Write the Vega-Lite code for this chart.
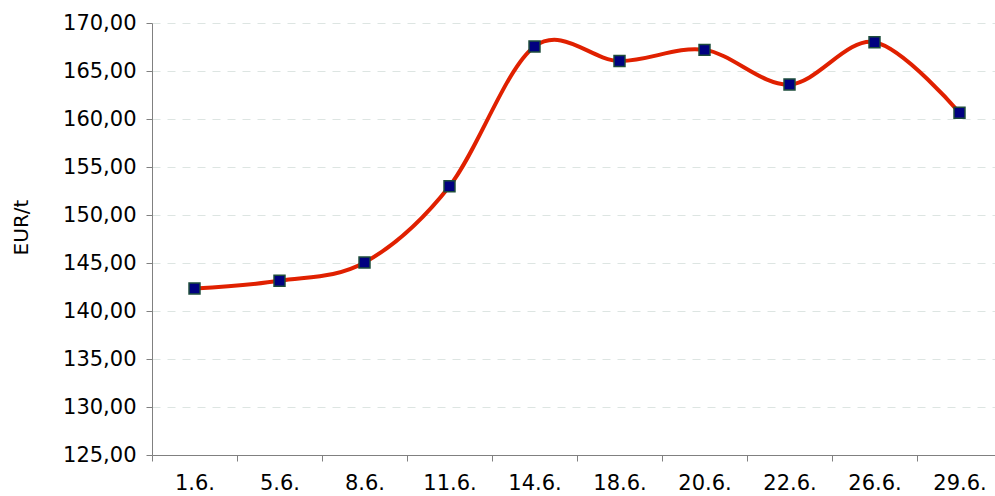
{
  "$schema": "https://vega.github.io/schema/vega-lite/v6.json",
  "width": 850,
  "height": 432,
  "autosize": "none",
  "padding": {"left": 152, "top": 23, "right": 0, "bottom": 41},
  "background": "white",
  "config": {"view": {"stroke": null}},
  "data": {
    "values": [
      {"date": "1.6.", "price": 142.35},
      {"date": "5.6.", "price": 143.15},
      {"date": "8.6.", "price": 145.05},
      {"date": "11.6.", "price": 153.0},
      {"date": "14.6.", "price": 167.55},
      {"date": "18.6.", "price": 166.05},
      {"date": "20.6.", "price": 167.2},
      {"date": "22.6.", "price": 163.6},
      {"date": "26.6.", "price": 168.0},
      {"date": "29.6.", "price": 160.65}
    ]
  },
  "encoding": {
    "x": {
      "field": "date",
      "type": "ordinal",
      "sort": null,
      "scale": {"type": "band", "paddingInner": 0, "paddingOuter": 0},
      "axis": {
        "title": null,
        "labelAngle": 0,
        "tickBand": "extent",
        "grid": false,
        "domainColor": "#808080",
        "tickColor": "#808080",
        "tickSize": 6,
        "labelPadding": 11,
        "labelFont": "DejaVu Sans",
        "labelFontSize": 21,
        "labelColor": "#000000"
      }
    },
    "y": {
      "field": "price",
      "type": "quantitative",
      "scale": {"domain": [125, 170], "zero": false, "nice": false},
      "axis": {
        "title": "EUR/t",
        "titleFont": "DejaVu Sans",
        "titleFontSize": 20,
        "titleFontWeight": "normal",
        "titleColor": "#000000",
        "titlePadding": 31,
        "titleY": 204,
        "values": [125, 130, 135, 140, 145, 150, 155, 160, 165, 170],
        "labelExpr": "replace(format(datum.value, '.2f'), '.', ',')",
        "labelFont": "DejaVu Sans",
        "labelFontSize": 21,
        "labelColor": "#000000",
        "labelPadding": 10,
        "tickSize": 6,
        "tickColor": "#808080",
        "domainColor": "#808080",
        "grid": true,
        "gridColor": "#dde5e2",
        "gridDash": [8, 7],
        "gridWidth": 1
      }
    }
  },
  "layer": [
    {
      "mark": {"type": "line", "interpolate": "cardinal", "color": "#e02000", "strokeWidth": 4}
    },
    {
      "mark": {"type": "point", "shape": "square", "filled": true, "fill": "#000080", "stroke": "#1e4d3c", "strokeWidth": 1.5, "size": 120, "opacity": 1}
    }
  ]
}
